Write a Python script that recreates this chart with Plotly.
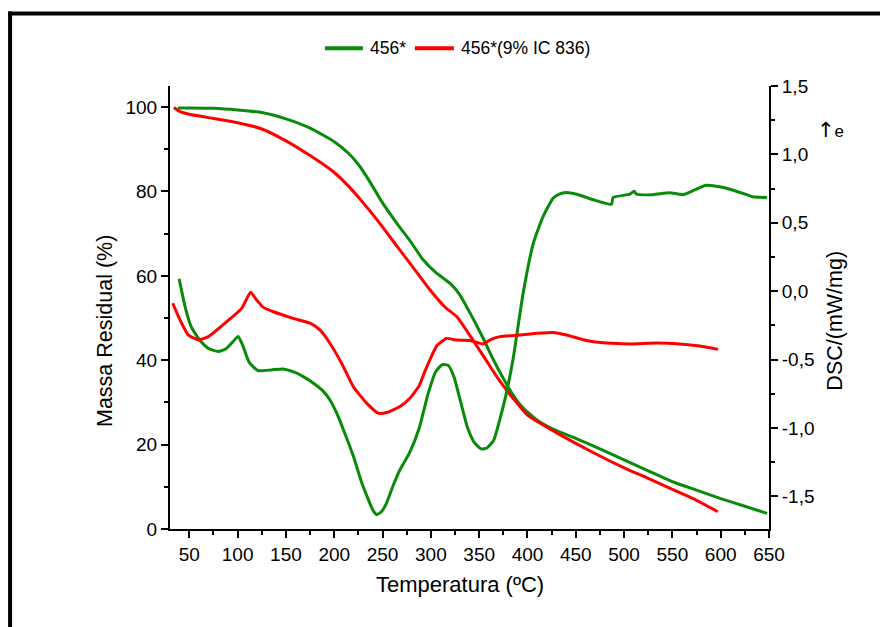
import plotly.graph_objects as go

# ---- TGA: residual mass (%) vs temperature (ºC) ----
temp_tga_456 = [38, 50, 75, 100, 125, 150, 175, 200, 215, 225, 235, 250, 265, 280, 292,
                305, 320, 330, 337, 345, 355, 365, 375, 385, 395, 410, 430, 450, 475,
                500, 525, 550, 575, 600, 625, 648]
mass_456 = [99.8, 99.8, 99.7, 99.3, 98.7, 97.2, 95.0, 91.8, 89.0, 86.4, 83.0, 77.3, 72.4,
            67.8, 63.8, 60.8, 58.2, 55.5, 52.7, 49.3, 44.8, 40.0, 35.7, 31.8, 28.8, 25.8,
            23.3, 21.5, 19.0, 16.4, 13.8, 11.2, 9.2, 7.2, 5.4, 3.7]

temp_tga_ic = [34, 40, 50, 75, 100, 125, 150, 175, 200, 215, 230, 247, 265, 280, 299, 315,
               327, 340, 357, 370, 385, 400, 425, 450, 475, 500, 525, 550, 575, 597]
mass_ic = [99.9, 99.0, 98.3, 97.3, 96.3, 94.8, 92.0, 88.5, 84.5, 81.2, 77.3, 72.5, 67.0,
           62.5, 56.7, 52.5, 50.3, 46.0, 40.1, 35.5, 31.0, 27.0, 23.5, 20.3, 17.3, 14.5,
           12.0, 9.4, 6.8, 4.1]

# ---- DSC: heat flow (mW/mg) vs temperature (ºC) ----
temp_dsc_456 = [39.5, 45.5, 52, 61, 70, 80, 88, 95, 100.5, 105, 112, 121, 135, 147, 160,
                168, 180, 189, 196, 202.5, 211, 220, 228, 234, 240, 244, 249, 254, 261,
                268, 278, 288, 297, 305, 312, 318, 324, 331, 338, 345, 352, 358, 365, 372,
                378, 385, 395.5, 406, 416, 426.5, 433, 440, 451, 468, 487, 488.6, 506,
                510.4, 513, 530, 547, 561, 573, 585, 606, 627, 633, 648]
dsc_456 = [0.09, -0.11, -0.26, -0.36, -0.42, -0.44, -0.42, -0.37, -0.33, -0.39, -0.52,
           -0.58, -0.575, -0.568, -0.595, -0.624, -0.68, -0.734, -0.80, -0.89, -1.04,
           -1.21, -1.39, -1.50, -1.60, -1.633, -1.61, -1.55, -1.42, -1.305, -1.18, -1.0,
           -0.752, -0.588, -0.536, -0.542, -0.628, -0.813, -0.998, -1.106, -1.152,
           -1.146, -1.09, -0.92, -0.75, -0.50, -0.015, 0.349, 0.543, 0.679, 0.71, 0.722,
           0.709, 0.669, 0.636, 0.685, 0.709, 0.731, 0.709, 0.706, 0.72, 0.706, 0.74,
           0.774, 0.753, 0.706, 0.691, 0.685]

temp_dsc_ic = [32.8, 40.4, 49, 59.3, 69.7, 88.7, 104.2, 113.5, 119.7, 126.6, 136.9, 157.6,
               174.9, 185.2, 195.5, 207.6, 219.7, 233.5, 245.5, 254.2, 268, 278.3, 288,
               293, 299, 306, 316.3, 326.6, 340.4, 354.1, 361, 371.4, 392, 409.4, 426.5,
               440.4, 461, 481.7, 505.9, 533.5, 557.6, 578.3, 597.2]
dsc_ic = [-0.088, -0.21, -0.32, -0.356, -0.332, -0.223, -0.125, -0.008, -0.064, -0.118,
          -0.150, -0.198, -0.234, -0.283, -0.380, -0.526, -0.697, -0.818, -0.891, -0.887,
          -0.843, -0.782, -0.69, -0.60, -0.502, -0.40, -0.345, -0.357, -0.360, -0.385,
          -0.357, -0.332, -0.32, -0.308, -0.301, -0.32, -0.360, -0.379, -0.385, -0.379,
          -0.385, -0.400, -0.425]

series_names = ["456*", "456*(9% IC 836)"]
x_ticks = list(range(50, 651, 50))
mass_ticks = [0, 20, 40, 60, 80, 100]
dsc_ticks = [-1.5, -1.0, -0.5, 0.0, 0.5, 1.0, 1.5]
dsc_labels = ["-1,5", "-1,0", "-0,5", "0,0", "0,5", "1,0", "1,5"]

GREEN = "#0a8a0a"
RED = "#ff0000"
FONT = "Liberation Sans, Arial, sans-serif"
line_style = dict(width=3, shape="spline", smoothing=0.5)

fig = go.Figure()
fig.add_trace(go.Scatter(x=temp_tga_456, y=mass_456, name=series_names[0], mode="lines",
                         line=dict(color=GREEN, **line_style)))
fig.add_trace(go.Scatter(x=temp_tga_ic, y=mass_ic, name=series_names[1], mode="lines",
                         line=dict(color=RED, **line_style)))
fig.add_trace(go.Scatter(x=temp_dsc_456, y=dsc_456, name=series_names[0], mode="lines",
                         yaxis="y2", line=dict(color=GREEN, **line_style)))
fig.add_trace(go.Scatter(x=temp_dsc_ic, y=dsc_ic, name=series_names[1], mode="lines",
                         yaxis="y2", line=dict(color=RED, **line_style)))

# plot area in pixels
L, R, T, B = 170, 769.3, 85.7, 529.3
W, H = 880, 627


def px_x(p):
    return (p - L) / (R - L)


def px_y(p):
    return (B - p) / (B - T)


axis_common = dict(showline=True, linecolor="black", linewidth=2, ticks="outside",
                   ticklen=7, tickwidth=2, tickcolor="black", showgrid=False,
                   zeroline=False, tickfont=dict(family=FONT, size=19, color="black"))
minor_common = dict(ticks="outside", ticklen=4, tickwidth=2, tickcolor="black")

fig.update_layout(
    width=W, height=H, autosize=False,
    margin=dict(l=L, r=W - R, t=T, b=H - B, pad=0),
    paper_bgcolor="white", plot_bgcolor="white",
    font=dict(family=FONT, color="black"),
    showlegend=False,
    xaxis=dict(range=[30, 650], tickvals=x_ticks,
               minor=dict(tickvals=list(range(75, 651, 50)), **minor_common),
               **axis_common),
    yaxis=dict(range=[0, 105], tickvals=mass_ticks,
               minor=dict(tickvals=[10, 30, 50, 70, 90], **minor_common),
               **axis_common),
    yaxis2=dict(range=[-1.738, 1.5], overlaying="y", side="right", anchor="x",
                tickvals=dsc_ticks, ticktext=dsc_labels,
                minor=dict(tickvals=[-1.25, -0.75, -0.25, 0.25, 0.75, 1.25],
                           **minor_common),
                **axis_common),
)


def label(text, x, y, size, angle=0, xanchor="center"):
    fig.add_annotation(text=text, xref="paper", yref="paper", x=px_x(x), y=px_y(y),
                       xanchor=xanchor, yanchor="middle", showarrow=False,
                       textangle=angle, font=dict(family=FONT, size=size, color="black"))


# axis titles and the exo marker
label("Temperatura (ºC)", 460, 585, 22)
label("Massa Residual (%)", 105, 331, 21.5, angle=-90)
label("DSC/(mW/mg)", 835, 321, 21.5, angle=-90)
label("<span style='font-family:DejaVu Sans;font-size:21px'>↑</span>"
      "<span style='font-size:17px'>e</span>", 831, 130, 17)

# legend row: coloured line sample followed by its series name
legend_items = [(325, 363, GREEN, series_names[0]), (415, 454, RED, series_names[1])]
for x0, x1, colour, name in legend_items:
    fig.add_shape(type="line", xref="paper", yref="paper",
                  x0=px_x(x0), x1=px_x(x1), y0=px_y(48), y1=px_y(48),
                  line=dict(color=colour, width=4))
    label(name, x1 + 5, 48, 17.5, xanchor="left")

# outer frame (left and top edges)
fig.add_shape(type="line", xref="paper", yref="paper",
              x0=px_x(10), x1=px_x(10), y0=px_y(11), y1=px_y(640),
              line=dict(color="black", width=4))
fig.add_shape(type="line", xref="paper", yref="paper",
              x0=px_x(8), x1=px_x(890), y0=px_y(13), y1=px_y(13),
              line=dict(color="black", width=4))

fig.write_html("out.html")
